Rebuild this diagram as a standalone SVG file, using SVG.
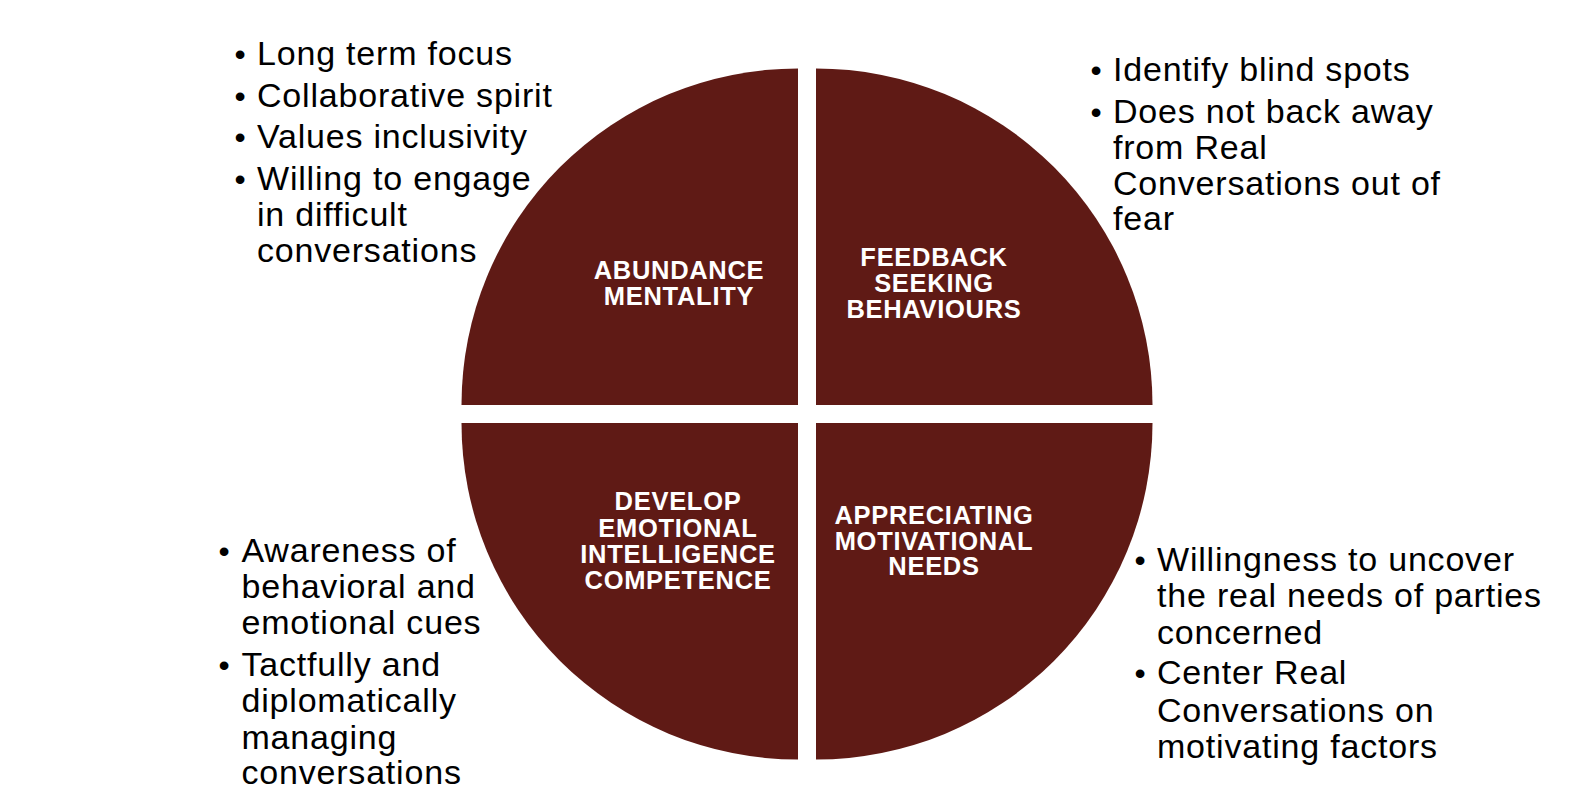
<svg xmlns="http://www.w3.org/2000/svg" width="1575" height="812" viewBox="0 0 1575 812">
<style>
.q{fill:#5f1a15}
.lbl{font-family:"Liberation Sans",Arial,sans-serif;font-weight:bold;font-size:25.5px;fill:#fff;text-anchor:middle;letter-spacing:0.7px}
.t{font-family:"Liberation Sans",Arial,sans-serif;font-size:34px;fill:#000;letter-spacing:0.8px}
.b{font-family:"Liberation Sans",Arial,sans-serif;font-size:32px;fill:#000;text-anchor:middle}
</style>
<rect width="1575" height="812" fill="#fff"/>
<g id="abundance-mentality">
<path class="q" d="M798,405 H461.5 A336.5,336.5 0 0 1 798,68.5 Z"/>
<text class="lbl"><tspan x="679" y="279">ABUNDANCE</tspan><tspan x="679" y="305">MENTALITY</tspan></text>
</g>
<g id="feedback-seeking">
<path class="q" d="M816,405 V68.5 A336.5,336.5 0 0 1 1152.5,405 Z"/>
<text class="lbl"><tspan x="934" y="266">FEEDBACK</tspan><tspan x="934" y="292">SEEKING</tspan><tspan x="934" y="317.5">BEHAVIOURS</tspan></text>
</g>
<g id="emotional-intelligence">
<path class="q" d="M798,423 H461.5 A336.5,336.5 0 0 0 798,759.5 Z"/>
<text class="lbl"><tspan x="678" y="510">DEVELOP</tspan><tspan x="678" y="536.5">EMOTIONAL</tspan><tspan x="678" y="562.5">INTELLIGENCE</tspan><tspan x="678" y="588.5">COMPETENCE</tspan></text>
</g>
<g id="motivational-needs">
<path class="q" d="M816,423 H1152.5 A336.5,336.5 0 0 1 816,759.5 Z"/>
<text class="lbl"><tspan x="934" y="523.5">APPRECIATING</tspan><tspan x="934" y="549.5">MOTIVATIONAL</tspan><tspan x="934" y="575">NEEDS</tspan></text>
</g>
<g id="list-top-left">
<text class="b" x="240" y="64.5">•</text>
<text class="b" x="240" y="106.5">•</text>
<text class="b" x="240" y="148">•</text>
<text class="b" x="240" y="190">•</text>
<text class="t"><tspan x="257" y="64.5">Long term focus</tspan><tspan x="257" y="106.5">Collaborative spirit</tspan><tspan x="257" y="148">Values inclusivity</tspan><tspan x="257" y="190">Willing to engage</tspan><tspan x="257" y="226">in difficult</tspan><tspan x="257" y="261.5">conversations</tspan></text>
</g>
<g id="list-top-right">
<text class="b" x="1096" y="80.5">•</text>
<text class="b" x="1096" y="122.5">•</text>
<text class="t"><tspan x="1113" y="80.5">Identify blind spots</tspan><tspan x="1113" y="122.5">Does not back away</tspan><tspan x="1113" y="158.5">from Real</tspan><tspan x="1113" y="194.5">Conversations out of</tspan><tspan x="1113" y="230">fear</tspan></text>
</g>
<g id="list-bottom-left">
<text class="b" x="224" y="562">•</text>
<text class="b" x="224" y="676">•</text>
<text class="t"><tspan x="241.5" y="562">Awareness of</tspan><tspan x="241.5" y="598">behavioral and</tspan><tspan x="241.5" y="634">emotional cues</tspan><tspan x="241.5" y="676">Tactfully and</tspan><tspan x="241.5" y="712">diplomatically</tspan><tspan x="241.5" y="748.5">managing</tspan><tspan x="241.5" y="784">conversations</tspan></text>
</g>
<g id="list-bottom-right">
<text class="b" x="1140" y="571">•</text>
<text class="b" x="1140" y="684">•</text>
<text class="t"><tspan x="1157" y="571">Willingness to uncover</tspan><tspan x="1157" y="607">the real needs of parties</tspan><tspan x="1157" y="644">concerned</tspan><tspan x="1157" y="684">Center Real</tspan><tspan x="1157" y="722">Conversations on</tspan><tspan x="1157" y="758">motivating factors</tspan></text>
</g>
</svg>
